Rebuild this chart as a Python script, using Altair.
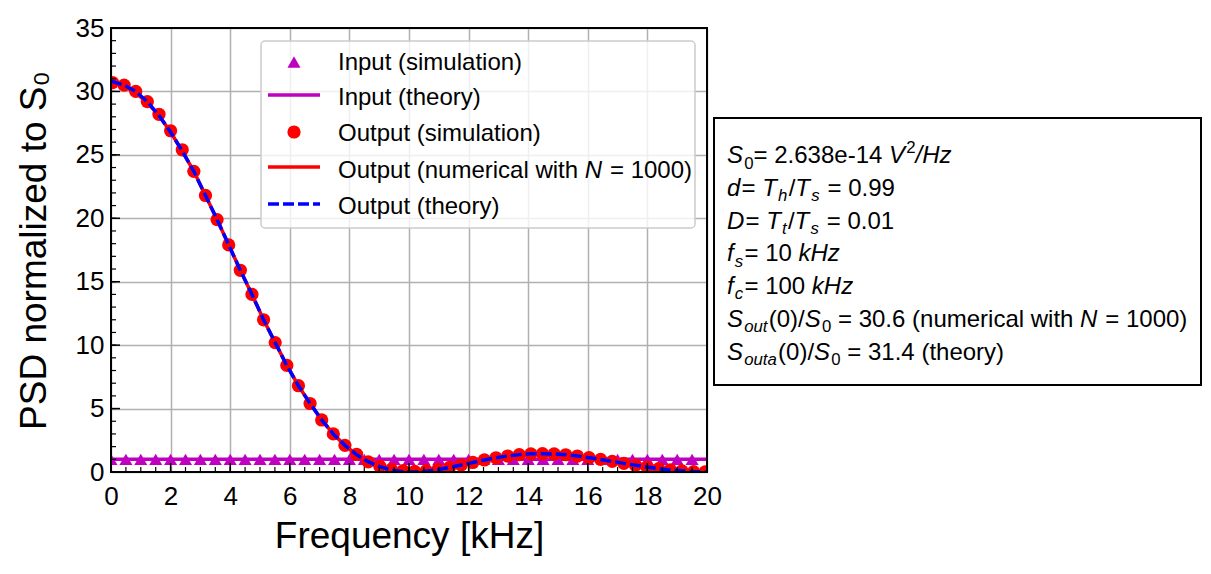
import altair as alt
import pandas as pd

# ---- values ----
freq_in = [0.0, 0.5, 1.0, 1.5, 2.0, 2.5, 3.0, 3.5, 4.0, 4.5, 5.0, 5.5, 6.0, 6.5,
           7.0, 7.5, 8.0, 8.5, 9.0, 9.5, 10.0, 10.5, 11.0, 11.5, 12.0, 12.5, 13.0,
           13.5, 14.0, 14.5, 15.0, 15.5, 16.0, 16.5, 17.0, 17.5, 18.0, 18.5, 19.0, 19.5]
psd_in_sim = [1.0, 1.0, 1.0, 1.0, 1.0, 1.0, 1.0, 1.0, 1.0, 1.0, 1.0, 1.0, 1.0, 1.0,
              1.0, 1.0, 1.0, 1.0, 1.0, 1.0, 1.0, 1.0, 1.0, 1.0, 1.0, 1.0, 1.0,
              1.0, 1.0, 1.0, 1.0, 1.0, 1.0, 1.0, 1.0, 1.0, 1.0, 1.0, 1.0, 1.0]
freq_in_theory = [0.0, 20.0]
psd_in_theory = [1.0, 1.0]

freq_out = [0.05, 0.44, 0.83, 1.22, 1.61, 2.00, 2.39, 2.78, 3.17, 3.56, 3.95, 4.34,
            4.73, 5.12, 5.51, 5.90, 6.29, 6.68, 7.07, 7.46, 7.85, 8.24, 8.63, 9.02,
            9.41, 9.80, 10.19, 10.58, 10.97, 11.36, 11.75, 12.14, 12.53, 12.92, 13.31,
            13.70, 14.09, 14.48, 14.87, 15.26, 15.65, 16.04, 16.43, 16.82, 17.21,
            17.60, 17.99, 18.38, 18.77, 19.16, 19.55, 19.94]
psd_out_sim = [30.7, 30.5, 30.0, 29.2, 28.2, 26.9, 25.4, 23.7, 21.8, 19.9, 17.9, 15.9,
               14.0, 12.0, 10.2, 8.4, 6.8, 5.4, 4.1, 3.0, 2.1, 1.4, 0.8, 0.45,
               0.2, 0.1, 0.05, 0.1, 0.2, 0.36, 0.55, 0.75, 0.95, 1.12, 1.26,
               1.37, 1.43, 1.44, 1.42, 1.36, 1.26, 1.13, 0.99, 0.84, 0.68,
               0.53, 0.39, 0.27, 0.16, 0.09, 0.03, 0.01]
freq_line = [0.0, 0.44, 0.83, 1.22, 1.61, 2.00, 2.39, 2.78, 3.17, 3.56, 3.95, 4.34,
             4.73, 5.12, 5.51, 5.90, 6.29, 6.68, 7.07, 7.46, 7.85, 8.24, 8.63, 9.02,
             9.41, 9.80, 10.19, 10.58, 10.97, 11.36, 11.75, 12.14, 12.53, 12.92, 13.31,
             13.70, 14.09, 14.48, 14.87, 15.26, 15.65, 16.04, 16.43, 16.82, 17.21,
             17.60, 17.99, 18.38, 18.77, 19.16, 19.55, 20.0]
psd_out_num = [30.7, 30.4, 29.9, 29.1, 28.1, 26.8, 25.3, 23.7, 21.8, 19.9, 17.9, 15.9,
               14.0, 12.0, 10.2, 8.4, 6.8, 5.4, 4.1, 3.0, 2.1, 1.37, 0.81, 0.42,
               0.16, 0.03, 0.0, 0.06, 0.19, 0.36, 0.55, 0.75, 0.95, 1.12, 1.26,
               1.37, 1.43, 1.44, 1.42, 1.36, 1.26, 1.13, 0.99, 0.84, 0.68,
               0.53, 0.39, 0.27, 0.16, 0.09, 0.03, 0.0]
psd_out_theory = [30.8, 30.5, 30.0, 29.2, 28.1, 26.8, 25.3, 23.7, 21.8, 19.9, 17.9, 15.9,
                  14.0, 12.0, 10.2, 8.4, 6.8, 5.4, 4.1, 3.0, 2.1, 1.37, 0.81, 0.42,
                  0.16, 0.03, 0.0, 0.06, 0.19, 0.36, 0.55, 0.75, 0.95, 1.12, 1.26,
                  1.37, 1.43, 1.44, 1.42, 1.36, 1.26, 1.13, 0.99, 0.84, 0.68,
                  0.53, 0.39, 0.27, 0.16, 0.09, 0.03, 0.0]

x_major = [0, 2, 4, 6, 8, 10, 12, 14, 16, 18, 20]
y_major = [0, 5, 10, 15, 20, 25, 30, 35]
x_minor = [i * 0.5 for i in range(41)]
y_minor = [i for i in range(36)]

legend_labels = [
    [("Input (simulation)", "n")],
    [("Input (theory)", "n")],
    [("Output (simulation)", "n")],
    [("Output (numerical with ", "n"), ("N", "i"), (" = 1000)", "n")],
    [("Output (theory)", "n")],
]
note_lines = [
    [("S", "i"), ("0", "sub"), ("= 2.638e-14 ", "n"), ("V", "i"), ("2", "sup"), ("/Hz", "i")],
    [("d", "i"), ("= ", "n"), ("T", "i"), ("h", "subi"), ("/", "n"), ("T", "i"), ("s", "subi"), (" = 0.99", "n")],
    [("D", "i"), ("= ", "n"), ("T", "i"), ("t", "subi"), ("/", "n"), ("T", "i"), ("s", "subi"), (" = 0.01", "n")],
    [("f", "i"), ("s", "subi"), ("= 10 ", "n"), ("kHz", "i")],
    [("f", "i"), ("c", "subi"), ("= 100 ", "n"), ("kHz", "i")],
    [("S", "i"), ("out", "subi"), ("(0)/", "n"), ("S", "i"), ("0", "sub"),
     (" = 30.6 (numerical with ", "n"), ("N", "i"), (" = 1000)", "n")],
    [("S", "i"), ("outa", "subi"), ("(0)/", "n"), ("S", "i"), ("0", "sub"), (" = 31.4 (theory)", "n")],
]

MAGENTA = "#bf00bf"
RED = "#ff0000"
BLUE = "#0000ff"
FONT = "Liberation Sans"
W, H = 596, 444

# Arial / Liberation Sans advance widths (per 1000 em), used to place mixed-style text
AW = {" ": 278, "(": 333, ")": 333, "-": 333, ".": 278, "/": 278, "=": 584,
      "a": 556, "b": 556, "c": 500, "d": 556, "e": 556, "f": 278, "g": 556, "h": 556,
      "i": 222, "k": 500, "l": 222, "m": 833, "n": 556, "o": 556, "p": 556, "r": 333,
      "s": 500, "t": 278, "u": 556, "w": 722, "y": 500, "z": 500,
      "D": 722, "H": 722, "I": 278, "N": 722, "O": 778, "S": 667, "T": 611, "V": 667}


def text_width(s, size):
    return sum(AW.get(c, 556) for c in s) * size / 1000


def layout(lines, x0, baselines, size):
    rows = []
    for segs, base in zip(lines, baselines):
        x = x0
        for txt, kind in segs:
            small = kind in ("sub", "subi", "sup")
            fs = size * 0.7 if small else size
            y = base
            if kind in ("sub", "subi"):
                y = base + 0.22 * size
            elif kind == "sup":
                y = base - 0.42 * size
            # svg drops leading/trailing blanks, so shift the text instead
            lead = len(txt) - len(txt.lstrip(" "))
            rows.append({"px": x + text_width(" " * lead, fs), "py": y,
                         "txt": txt.strip(" "), "fs": fs,
                         "it": kind in ("i", "subi")})
            x += text_width(txt, fs)
            if kind in ("i", "subi"):
                x += 0.05 * size
    return pd.DataFrame(rows)


def text_layer(df, italic):
    return alt.Chart(df[df["it"] == italic]).mark_text(
        align="left", baseline="alphabetic", font=FONT, color="black",
        fontStyle="italic" if italic else "normal"
    ).encode(
        x=alt.X("px:Q", scale=None),
        y=alt.Y("py:Q", scale=None),
        text="txt:N",
        size=alt.Size("fs:Q", scale=None),
    )


xs = alt.Scale(domain=[0, 20], nice=False, zero=False)
ys = alt.Scale(domain=[0, 35], nice=False, zero=False)

df_in = pd.DataFrame({"f": freq_in, "p": psd_in_sim})
df_in_t = pd.DataFrame({"f": freq_in_theory, "p": psd_in_theory})
df_out = pd.DataFrame({"f": freq_out, "p": psd_out_sim})
df_num = pd.DataFrame({"f": freq_line, "p": psd_out_num})
df_th = pd.DataFrame({"f": freq_line, "p": psd_out_theory})
one = pd.DataFrame({"k": [0]})

x_axis = alt.Axis(values=x_major, grid=True, gridColor="#b0b0b0", gridWidth=1.5,
                  ticks=False, domain=False, labelFont=FONT, labelFontSize=26,
                  labelColor="black", labelPadding=11, labelFlush=False,
                  title="Frequency [kHz]", titleFont=FONT, titleFontSize=37,
                  titleFontWeight="normal", titleColor="black", titlePadding=9)
y_axis = alt.Axis(values=y_major, grid=True, gridColor="#b0b0b0", gridWidth=1.5,
                  ticks=False, domain=False, labelFont=FONT, labelFontSize=26,
                  labelColor="black", labelPadding=7, labelFlush=False,
                  title="PSD normalized to S₀", titleFont=FONT, titleFontSize=37,
                  titleFontWeight="normal", titleColor="black", titlePadding=22)

in_sim = alt.Chart(df_in).mark_point(
    shape="triangle-up", filled=True, size=170, color=MAGENTA, opacity=1, clip=True
).encode(x=alt.X("f:Q", scale=xs, axis=x_axis), y=alt.Y("p:Q", scale=ys, axis=y_axis))

in_th = alt.Chart(df_in_t).mark_line(color=MAGENTA, strokeWidth=3.5, clip=True).encode(
    x=alt.X("f:Q", scale=xs), y=alt.Y("p:Q", scale=ys))

out_sim = alt.Chart(df_out).mark_point(
    shape="circle", filled=True, size=175, color=RED, opacity=1, clip=True
).encode(x=alt.X("f:Q", scale=xs), y=alt.Y("p:Q", scale=ys))

out_num = alt.Chart(df_num).mark_line(color=RED, strokeWidth=3.5, clip=True).encode(
    x=alt.X("f:Q", scale=xs), y=alt.Y("p:Q", scale=ys))

out_th = alt.Chart(df_th).mark_line(
    color=BLUE, strokeWidth=3.5, strokeDash=[11, 4], clip=True
).encode(x=alt.X("f:Q", scale=xs), y=alt.Y("p:Q", scale=ys))

# inward ticks on left and bottom
xt_major = alt.Chart(pd.DataFrame({"t": x_major})).mark_rule(color="black", strokeWidth=1.5).encode(
    x=alt.X("t:Q", scale=xs), y=alt.value(H), y2=alt.value(H - 9))
xt_minor = alt.Chart(pd.DataFrame({"t": x_minor})).mark_rule(color="black", strokeWidth=1.2).encode(
    x=alt.X("t:Q", scale=xs), y=alt.value(H), y2=alt.value(H - 5))
yt_major = alt.Chart(pd.DataFrame({"t": y_major})).mark_rule(color="black", strokeWidth=1.5).encode(
    y=alt.Y("t:Q", scale=ys), x=alt.value(0), x2=alt.value(9))
yt_minor = alt.Chart(pd.DataFrame({"t": y_minor})).mark_rule(color="black", strokeWidth=1.2).encode(
    y=alt.Y("t:Q", scale=ys), x=alt.value(0), x2=alt.value(5))

frame = alt.Chart(one).mark_rect(filled=False, stroke="black", strokeWidth=2).encode(
    x=alt.value(0), x2=alt.value(W), y=alt.value(0), y2=alt.value(H))

# legend (drawn by hand, upper right of the plot)
leg_box = alt.Chart(one).mark_rect(
    fill="white", fillOpacity=0.8, stroke="#cccccc", strokeWidth=1.5, cornerRadius=4
).encode(x=alt.value(150), x2=alt.value(584), y=alt.value(13), y2=alt.value(200))
leg_tri = alt.Chart(one).mark_point(shape="triangle-up", filled=True, size=170,
                                    color=MAGENTA, opacity=1).encode(
    x=alt.value(183), y=alt.value(34))
leg_in_line = alt.Chart(one).mark_rule(color=MAGENTA, strokeWidth=3.5).encode(
    x=alt.value(157), x2=alt.value(209), y=alt.value(67))
leg_circ = alt.Chart(one).mark_point(shape="circle", filled=True, size=175,
                                     color=RED, opacity=1).encode(
    x=alt.value(183), y=alt.value(104))
leg_red = alt.Chart(one).mark_rule(color=RED, strokeWidth=3.5).encode(
    x=alt.value(157), x2=alt.value(209), y=alt.value(139))
leg_blue = alt.Chart(one).mark_rule(color=BLUE, strokeWidth=3.5, strokeDash=[11, 4]).encode(
    x=alt.value(157), x2=alt.value(209), y=alt.value(176))
leg_text = layout(legend_labels, 227, [42, 77, 113, 149.7, 186.3], 24)

# parameter box to the right of the plot
note_box = alt.Chart(one).mark_rect(fill="white", stroke="black", strokeWidth=2).encode(
    x=alt.value(603), x2=alt.value(1090), y=alt.value(90), y2=alt.value(357))
note_text = layout(note_lines, 616, [135.3 + 32.7 * k for k in range(7)], 24)

chart = alt.layer(
    in_sim, in_th, out_sim, out_num, out_th,
    xt_minor, xt_major, yt_minor, yt_major, frame,
    leg_box, leg_tri, leg_in_line, leg_circ, leg_red, leg_blue,
    text_layer(leg_text, False), text_layer(leg_text, True),
    note_box, text_layer(note_text, False), text_layer(note_text, True),
).properties(
    width=W, height=H,
    autosize=alt.AutoSizeParams(type="none"),
    padding={"left": 103, "top": 20, "right": 496, "bottom": 90},
    background="white",
).configure_view(stroke=None)

chart.save("out.html", embed_options={"renderer": "svg", "actions": False})
